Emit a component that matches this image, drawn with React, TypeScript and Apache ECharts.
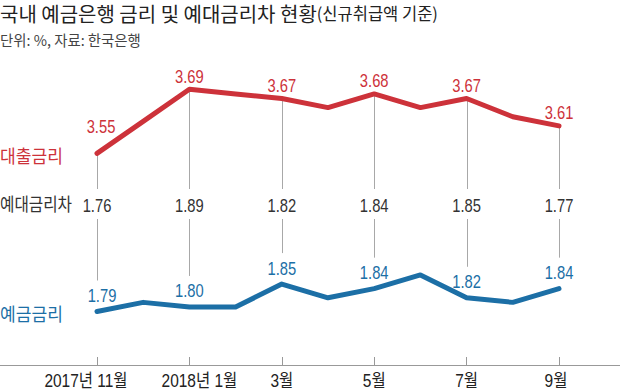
import React, { useEffect, useRef } from "react";
import * as echarts from "echarts";

const months = ["2017년 11월", "12월", "2018년 1월", "2월", "3월", "4월", "5월", "6월", "7월", "8월", "9월"];
const loanRates = [3.55, 3.62, 3.69, 3.68, 3.67, 3.65, 3.68, 3.65, 3.67, 3.63, 3.61];
const depositRates = [1.79, 1.81, 1.80, 1.80, 1.85, 1.82, 1.84, 1.87, 1.82, 1.81, 1.84];
const labeledIdx = [0, 2, 4, 6, 8, 10];
const spreads = [1.76, 1.89, 1.82, 1.84, 1.85, 1.77];

const RED = "#cd323a";
const BLUE = "#1c6fa6";
const NUM_FONT = "'Liberation Sans', Arial, 'Noto Sans CJK KR', sans-serif";
const KR_FONT = "'Noto Sans CJK KR', sans-serif";
const NUM_SX = 0.82;

// label nudges (style only)
const axisLabelShift: Record<number, number> = { 0: -11, 2: 10, 10: -3 };

function txt(text: string, x: number, y: number, size: number, fill: string, sx: number) {
  return {
    type: "text",
    x,
    y,
    scaleX: sx,
    silent: true,
    style: {
      text,
      fill,
      font: `${size}px ${KR_FONT}`,
      align: "left",
      textAlign: "left",
      verticalAlign: "middle",
      textVerticalAlign: "middle",
    },
  };
}

function numText(text: string, x: number, y: number, fill: string) {
  return {
    type: "text",
    x,
    y,
    scaleX: NUM_SX,
    style: {
      text,
      x: 0,
      y: 0,
      fill,
      font: `18px ${NUM_FONT}`,
      align: "center",
      textAlign: "center",
      verticalAlign: "middle",
      textVerticalAlign: "middle",
    },
  };
}

export default function App() {
  const ref = useRef<HTMLDivElement>(null);
  useEffect(() => {
    if (!ref.current) return;
    const chart = echarts.init(ref.current, undefined, { renderer: "svg" });
    const option: any = {
      animation: false,
      backgroundColor: "#ffffff",
      grid: { left: 97, right: 61, top: 50, bottom: 25 },
      xAxis: {
        type: "category",
        data: months,
        boundaryGap: false,
        axisLine: { show: false },
        axisTick: { show: true, inside: true, length: 8, interval: 1, lineStyle: { color: "#999" } },
        axisLabel: { show: false },
        splitLine: { show: false },
      },
      yAxis: [
        { type: "value", show: false, min: 3.087, max: 3.776, splitLine: { show: false } },
        { type: "value", show: false, min: 1.673, max: 2.362, splitLine: { show: false } },
      ],
      series: [
        {
          // connectors, loan labels and spread labels
          type: "custom",
          yAxisIndex: 0,
          z: 1,
          silent: true,
          data: labeledIdx.map((i, k) => [i, loanRates[i], spreads[k]]),
          renderItem: (params: any, api: any) => {
            const p = api.coord([api.value(0), api.value(1)]);
            const x = Math.round(p[0]) + 0.5;
            const first = params.dataIndex === 0;
            return {
              type: "group",
              children: [
                { type: "line", shape: { x1: x, y1: p[1], x2: x, y2: 189 }, style: { stroke: "#a8a8a8", lineWidth: 1 } },
                numText(Number(api.value(2)).toFixed(2), p[0], 205, "#333"),
                numText(Number(api.value(1)).toFixed(2), p[0] + (first ? 4 : 0), p[1] - (first ? 27 : 13), RED),
              ],
            };
          },
        },
        {
          // connectors and deposit labels
          type: "custom",
          yAxisIndex: 1,
          z: 1,
          silent: true,
          data: labeledIdx.map((i) => [i, depositRates[i]]),
          renderItem: (params: any, api: any) => {
            const p = api.coord([api.value(0), api.value(1)]);
            const x = Math.round(p[0]) + 0.5;
            const first = params.dataIndex === 0;
            return {
              type: "group",
              children: [
                { type: "line", shape: { x1: x, y1: 219, x2: x, y2: p[1] - 31 }, style: { stroke: "#a8a8a8", lineWidth: 1 } },
                numText(Number(api.value(1)).toFixed(2), p[0] + (first ? 5 : 0), p[1] - 16, BLUE),
              ],
            };
          },
        },
        {
          // x-axis month labels
          type: "custom",
          yAxisIndex: 0,
          z: 1,
          silent: true,
          data: labeledIdx.map((i) => [i, 3.087]),
          renderItem: (params: any, api: any) => {
            const idx = api.value(0);
            const p = api.coord([idx, api.value(1)]);
            const shift = axisLabelShift[idx] || 0;
            return {
              type: "text",
              x: p[0] + shift,
              y: p[1] + 16,
              scaleX: 0.86,
              style: {
                text: months[idx],
                x: 0,
                y: 0,
                fill: "#222",
                font: `18px ${NUM_FONT}`,
                align: "center",
                textAlign: "center",
                verticalAlign: "middle",
                textVerticalAlign: "middle",
              },
            };
          },
        },
        {
          type: "line",
          name: "대출금리",
          yAxisIndex: 0,
          z: 3,
          data: loanRates,
          showSymbol: false,
          itemStyle: { color: RED },
          lineStyle: { color: RED, width: 5, cap: "round", join: "round" },
        },
        {
          type: "line",
          name: "예금금리",
          yAxisIndex: 1,
          z: 3,
          data: depositRates,
          showSymbol: false,
          itemStyle: { color: BLUE },
          lineStyle: { color: BLUE, width: 5, cap: "round", join: "round" },
        },
      ],
      graphic: [
        {
          type: "text",
          x: 0,
          y: 13,
          silent: true,
          style: {
            text: "{a|국내 예금은행 금리 및 예대금리차 현황}{b|(신규취급액 기준)}",
            align: "left",
            textAlign: "left",
            verticalAlign: "middle",
            textVerticalAlign: "middle",
            rich: {
              a: { fontSize: 20, lineHeight: 20, fontFamily: KR_FONT, fill: "#222", color: "#222" },
              b: { fontSize: 16.5, lineHeight: 20, fontFamily: KR_FONT, fill: "#222", color: "#222" },
            },
          },
        },
        txt("단위: %, 자료: 한국은행", 0, 39, 15, "#444", 0.96),
        txt("대출금리", 0, 155, 18, RED, 0.95),
        txt("예대금리차", 0, 203, 18, "#333", 0.87),
        txt("예금금리", 0, 313, 18, BLUE, 0.95),
        {
          type: "line",
          silent: true,
          shape: { x1: 0, y1: 365.5, x2: 620, y2: 365.5 },
          style: { stroke: "#999", lineWidth: 1 },
        },
      ],
    };
    chart.setOption(option);
    return () => chart.dispose();
  }, []);
  return <div ref={ref} style={{ position: "fixed", left: 0, top: 0, width: 620, height: 390 }} />;
}
